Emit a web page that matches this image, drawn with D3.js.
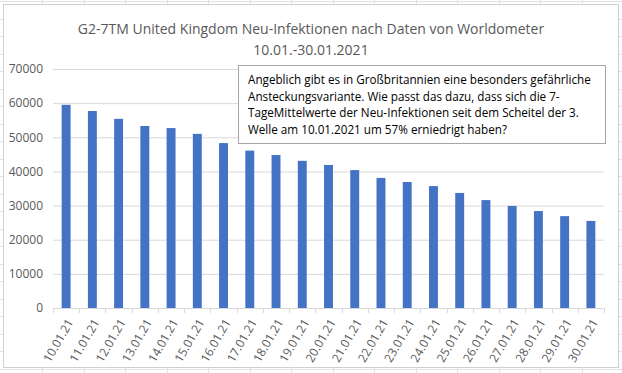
<!DOCTYPE html>
<html lang="de">
  <head>
    <meta charset="UTF-8" />
    <title>G2-7TM United Kingdom</title>
    <style>
      body {
        margin: 0;
        background: #fff;
      }
      svg text {
        font-family: 'Open Sans', 'Noto Sans', sans-serif;
        fill: #595959;
      }
    </style>
  </head>
  <body>
    <div id="main"></div>
    <script src="https://cdn.jsdelivr.net/npm/d3@7"></script>
    <script>
      const categories = [
        '10.01.21', '11.01.21', '12.01.21', '13.01.21', '14.01.21', '15.01.21', '16.01.21',
        '17.01.21', '18.01.21', '19.01.21', '20.01.21', '21.01.21', '22.01.21', '23.01.21',
        '24.01.21', '25.01.21', '26.01.21', '27.01.21', '28.01.21', '29.01.21', '30.01.21'
      ]
      const values = [
        59500, 57700, 55400, 53300, 52700, 51000, 48300,
        46100, 44800, 43100, 41900, 40400, 38100, 36900,
        35700, 33700, 31600, 29900, 28400, 26900, 25500
      ]
      const yTicks = [0, 10000, 20000, 30000, 40000, 50000, 60000, 70000]
      const titleLines = [
        'G2-7TM United Kingdom Neu-Infektionen nach Daten von Worldometer',
        '10.01.-30.01.2021'
      ]
      const noteLines = [
        'Angeblich gibt es in Großbritannien eine besonders gefährliche',
        'Ansteckungsvariante. Wie passt das dazu, dass sich die 7-',
        'TageMittelwerte der Neu-Infektionen seit dem Scheitel der 3.',
        'Welle am 10.01.2021 um 57% erniedrigt haben?'
      ]

      const [width, height] = [622, 373]
      const svg = d3
        .select('#main')
        .append('svg')
        .attr('width', width)
        .attr('height', height)
        .attr('viewBox', `0 0 ${width} ${height}`)

      // spreadsheet cells behind the chart
      const cells = svg.append('g').attr('stroke', '#e2e2e2').attr('stroke-width', 1)
      cells
        .selectAll('line.col')
        .data(d3.range(42, width, 41.5))
        .join('line')
        .attr('x1', d => Math.round(d) + 0.5)
        .attr('x2', d => Math.round(d) + 0.5)
        .attr('y1', 0)
        .attr('y2', height)
      cells
        .selectAll('line.row')
        .data(d3.range(1, height, 17.5))
        .join('line')
        .attr('y1', d => Math.round(d) + 0.5)
        .attr('y2', d => Math.round(d) + 0.5)
        .attr('x1', 0)
        .attr('x2', width)

      // chart area
      svg
        .append('rect')
        .attr('x', 3.5)
        .attr('y', 4.5)
        .attr('width', 615)
        .attr('height', 363)
        .attr('fill', '#fff')
        .attr('stroke', '#d0d0d0')

      const plot = { left: 53, right: 604, top: 69, bottom: 308 }

      const xScale = d3
        .scaleBand()
        .domain(categories)
        .range([plot.left, plot.right])
        .paddingInner(0.66)
        .paddingOuter(0.33)

      const yScale = d3.scaleLinear().domain([0, 70000]).range([plot.bottom, plot.top])

      // gridlines + y labels
      const yAxis = svg
        .append('g')
        .attr('transform', `translate(${plot.left}, 0)`)
        .call(
          d3
            .axisLeft(yScale)
            .tickValues(yTicks)
            .tickSize(-(plot.right - plot.left))
            .tickPadding(10)
            .tickFormat(d3.format('d'))
        )
      yAxis.select('.domain').remove()
      yAxis.selectAll('line').attr('stroke', '#d9d9d9')
      yAxis.selectAll('text').style('font-size', '12px')

      // bars
      svg
        .append('g')
        .attr('fill', '#4472c4')
        .selectAll('rect')
        .data(values)
        .join('rect')
        .attr('x', (d, i) => xScale(categories[i]))
        .attr('width', xScale.bandwidth())
        .attr('y', d => yScale(d))
        .attr('height', d => yScale(0) - yScale(d))

      // category axis
      const step = xScale.step()
      const xAxis = svg.append('g')
      xAxis
        .append('line')
        .attr('x1', plot.left)
        .attr('x2', plot.right)
        .attr('y1', plot.bottom + 0.5)
        .attr('y2', plot.bottom + 0.5)
        .attr('stroke', '#d9d9d9')
      xAxis
        .selectAll('line.tick')
        .data(d3.range(categories.length + 1))
        .join('line')
        .attr('class', 'tick')
        .attr('x1', i => Math.round(plot.left + i * step) + 0.5)
        .attr('x2', i => Math.round(plot.left + i * step) + 0.5)
        .attr('y1', plot.bottom)
        .attr('y2', plot.bottom + 5)
        .attr('stroke', '#d9d9d9')
      xAxis
        .selectAll('text')
        .data(categories)
        .join('text')
        .attr(
          'transform',
          d => `translate(${xScale(d) + xScale.bandwidth() / 2 + 4}, ${plot.bottom + 12}) rotate(-60)`
        )
        .attr('text-anchor', 'end')
        .attr('dy', '0.35em')
        .style('font-size', '12px')
        .text(d => d)

      // title
      svg
        .append('g')
        .selectAll('text')
        .data(titleLines)
        .join('text')
        .attr('x', 311)
        .attr('y', (d, i) => 34 + i * 21)
        .attr('text-anchor', 'middle')
        .style('font-size', '14px')
        .text(d => d)

      // note box
      const note = svg.append('g')
      note
        .append('rect')
        .attr('x', 238.5)
        .attr('y', 65.5)
        .attr('width', 367)
        .attr('height', 78)
        .attr('fill', '#fff')
        .attr('stroke', '#a6a6a6')
      note
        .selectAll('text')
        .data(noteLines)
        .join('text')
        .attr('x', 248)
        .attr('y', (d, i) => 84 + i * 16.7)
        .style('font-size', '11.7px')
        .style('fill', '#000')
        .text(d => d)
    </script>
  </body>
</html>
